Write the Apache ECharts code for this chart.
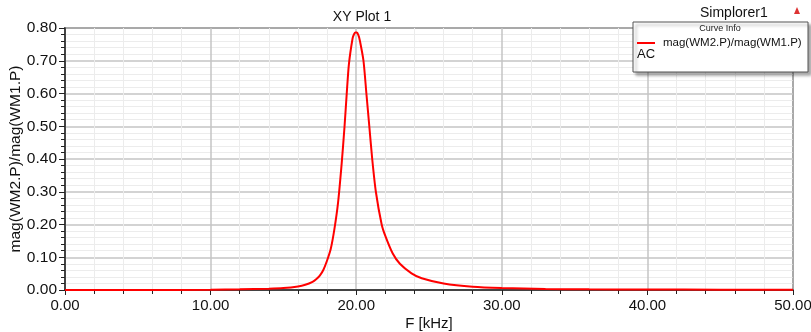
<!DOCTYPE html>
<html>
<head>
<meta charset="utf-8">
<script src="https://cdn.jsdelivr.net/npm/echarts@6/dist/echarts.min.js"></script>
<style>
  html, body { margin: 0; padding: 0; background: #fff; }
  #chart { width: 811px; height: 332px; }
</style>
</head>
<body>
<div id="chart"></div>
<script>
// frequency in kHz
const freq = [0, 5, 10, 12, 14, 15, 16, 16.5, 17, 17.25, 17.5, 17.75, 18, 18.25, 18.5, 18.75,
  19, 19.2, 19.35, 19.5, 19.75, 19.85, 19.95, 20.05, 20.15, 20.25, 20.5, 20.7, 20.9,
  21.1, 21.35, 21.75, 22, 22.5, 23, 23.8, 24.5, 26, 28, 30, 33, 36, 40, 45, 50];
// mag(WM2.P)/mag(WM1.P)
const ratio = [0, 0, 0.001, 0.002, 0.004, 0.006, 0.011, 0.016, 0.025, 0.033, 0.044, 0.062, 0.09, 0.125, 0.185, 0.265,
  0.385, 0.5, 0.6, 0.69, 0.768, 0.781, 0.786, 0.786, 0.778, 0.762, 0.7, 0.6, 0.5,
  0.4, 0.3, 0.2, 0.165, 0.112, 0.08, 0.051, 0.036, 0.02, 0.01, 0.006, 0.003, 0.002, 0.0015, 0.001, 0.001];
const xTicks = [0, 10, 20, 30, 40, 50];
const yTicks = [0, 0.1, 0.2, 0.3, 0.4, 0.5, 0.6, 0.7, 0.8];

const seriesName = "mag(WM2.P)/mag(WM1.P)";
const font = "Liberation Sans, Arial, sans-serif";

const chart = echarts.init(document.getElementById("chart"));
chart.setOption({
  animation: false,
  backgroundColor: "#fff",
  title: {
    text: "XY Plot 1",
    left: 357, top: 5,
    textAlign: "center",
    textStyle: { fontSize: 14, fontWeight: "normal", color: "#111", fontFamily: font }
  },
  grid: {
    left: 65, right: 18, top: 28, bottom: 42,
    containLabel: false, outerBoundsMode: "none",
    show: true, borderColor: "#222", borderWidth: 1.5, backgroundColor: "#fff"
  },
  xAxis: {
    type: "value",
    min: xTicks[0], max: xTicks[xTicks.length - 1], interval: 10,
    name: "F [kHz]", nameLocation: "middle", nameGap: 26, nameMoveOverlap: false,
    nameTextStyle: { fontSize: 15, color: "#111", fontFamily: font },
    axisLine: { show: true, lineStyle: { color: "#222", width: 1.5 } },
    axisTick: { show: true, length: 5, lineStyle: { color: "#222" } },
    minorTick: { show: true, splitNumber: 5, length: 4, lineStyle: { color: "#222" } },
    axisLabel: { fontSize: 15, color: "#111", fontFamily: font, margin: 8,
      formatter: v => v.toFixed(2) },
    splitLine: { show: true, lineStyle: { color: "#c4c4c4", width: 1.5 } },
    minorSplitLine: { show: true, lineStyle: { color: "#ececec", width: 1 } }
  },
  yAxis: {
    type: "value",
    min: yTicks[0], max: yTicks[yTicks.length - 1], interval: 0.1,
    name: seriesName, nameLocation: "middle", nameGap: 41, nameRotate: 90, nameMoveOverlap: false,
    nameTextStyle: { fontSize: 15.5, color: "#111", fontFamily: font },
    axisLine: { show: true, lineStyle: { color: "#222", width: 1.5 } },
    axisTick: { show: true, length: 6, lineStyle: { color: "#222" } },
    minorTick: { show: true, splitNumber: 5, length: 4, lineStyle: { color: "#222" } },
    axisLabel: { fontSize: 15.5, color: "#111", fontFamily: font, margin: 8,
      formatter: v => v.toFixed(2) },
    splitLine: { show: true, lineStyle: { color: "#c4c4c4", width: 1.5 } },
    minorSplitLine: { show: true, lineStyle: { color: "#ececec", width: 1 } }
  },
  series: [{
    name: seriesName,
    type: "line",
    data: freq.map((f, i) => [f, ratio[i]]),
    showSymbol: false,
    smooth: 0.25,
    lineStyle: { color: "#ff0000", width: 2 },
    z: 5
  }],
  graphic: [
    {
      type: "text", left: 700, top: 6,
      style: { text: "Simplorer1", fontSize: 14, fill: "#111", fontFamily: font }
    },
    {
      type: "polygon", z: 10,
      shape: { points: [[797, 7], [794, 14], [800, 14]] },
      style: { fill: "#d33" }
    },
    {
      type: "rect", z: 20,
      shape: { x: 633, y: 22, width: 175, height: 50 },
      style: { fill: "#fff", stroke: "#555", lineWidth: 1,
        shadowBlur: 3, shadowOffsetX: 3, shadowOffsetY: 3, shadowColor: "rgba(0,0,0,0.35)" }
    },
    {
      type: "text", z: 21, x: 720, y: 24,
      style: { text: "Curve Info", fontSize: 9, fill: "#222", fontFamily: font, align: "center" }
    },
    {
      type: "line", z: 21,
      shape: { x1: 637, y1: 43, x2: 655, y2: 43 },
      style: { stroke: "#ff0000", lineWidth: 2 }
    },
    {
      type: "text", z: 21, x: 663, y: 37,
      style: { text: seriesName, fontSize: 11.5, fill: "#111", fontFamily: font }
    },
    {
      type: "text", z: 21, x: 637, y: 48,
      style: { text: "AC", fontSize: 13, fill: "#111", fontFamily: font }
    }
  ]
});
</script>
</body>
</html>
